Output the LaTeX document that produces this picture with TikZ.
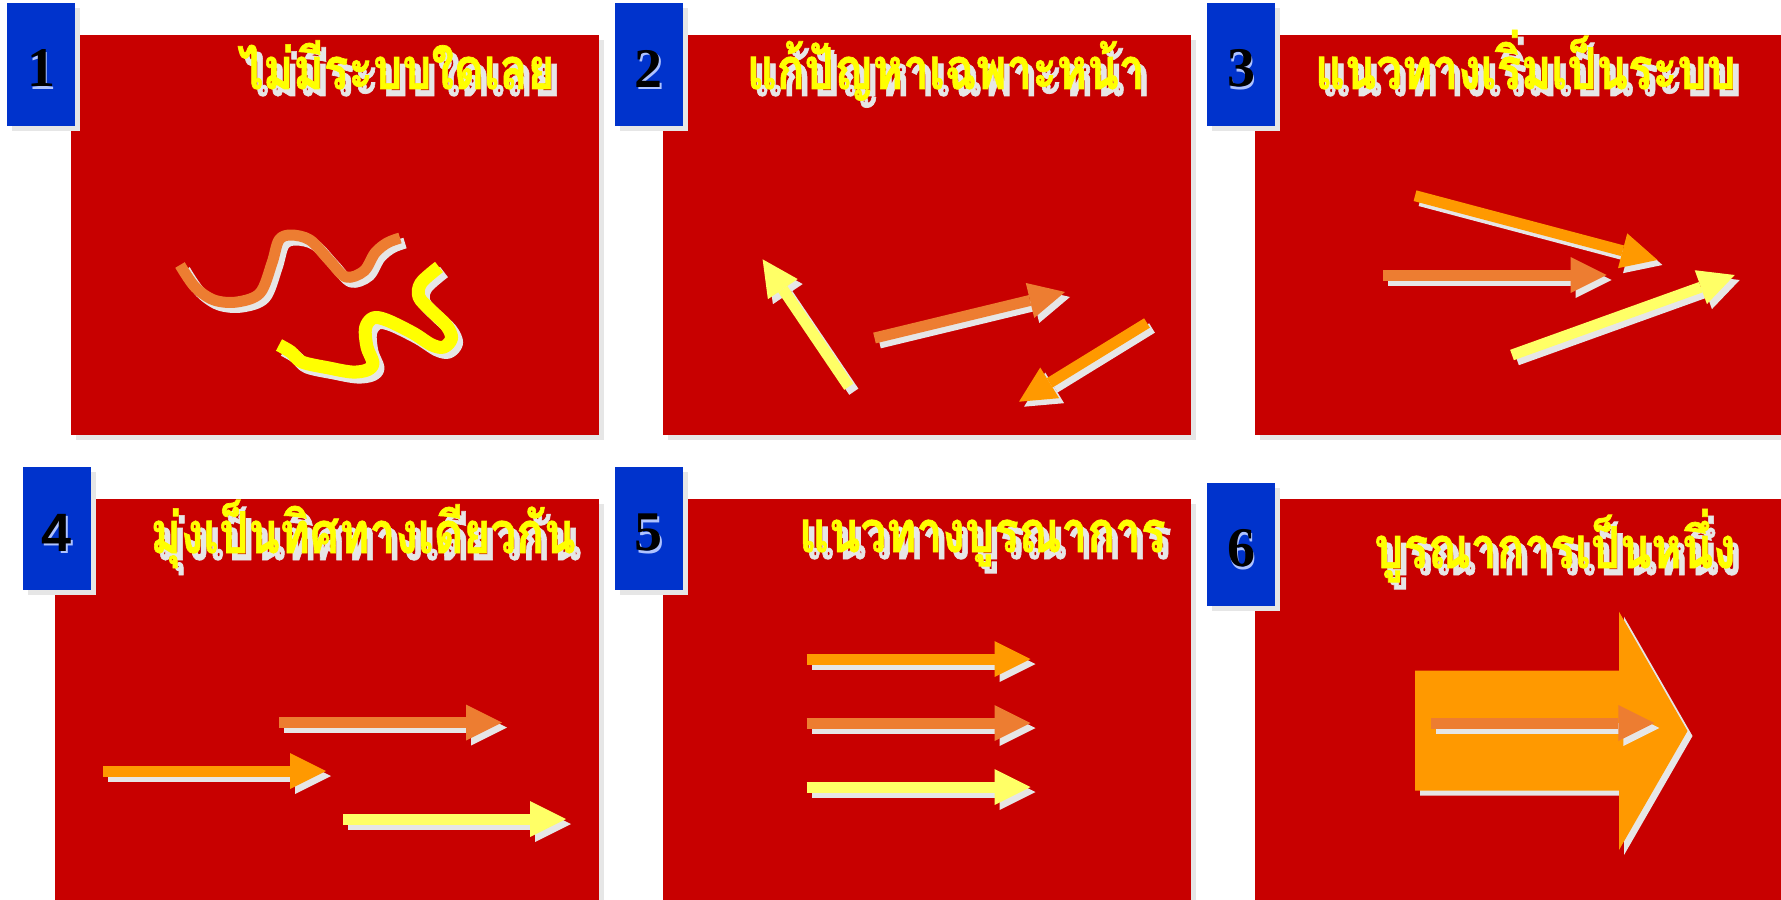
\documentclass[tikz,border=0pt]{standalone}
\usepackage{graphicx}
\usepackage{fontspec}
\newfontfamily\thaifont[Script=Thai, BoldFeatures={FakeBold=1.2}]{Loma}
\newfontfamily\numserif{Liberation Serif}
\newfontfamily\numsans{Liberation Sans}
\usetikzlibrary{arrows.meta}
\definecolor{panelred}{RGB}{200,0,0}
\definecolor{boxblue}{RGB}{0,51,204}
\definecolor{shadowgray}{RGB}{230,230,230}
\definecolor{arrorange}{RGB}{255,153,0}
\definecolor{arrcoral}{RGB}{237,125,49}
\definecolor{arryellow}{RGB}{255,255,102}
\definecolor{curveyellow}{RGB}{255,255,0}
\definecolor{titleyellow}{RGB}{255,255,0}
\definecolor{glowblue}{RGB}{175,195,255}
\newcommand{\tall}[1]{\scalebox{1}[1.25]{#1}}
\begin{document}
\begin{tikzpicture}[x=0.5pt,y=-0.5pt,
  panelbox/.style={fill=panelred},
  bluebox/.style={fill=boxblue},
  shadowbox/.style={fill=shadowgray},
  numtext/.style={inner sep=0pt, anchor=center, font=\numserif\bfseries\fontsize{28pt}{30pt}\selectfont},
  numsanstext/.style={inner sep=0pt, anchor=center, font=\numsans\bfseries\fontsize{27pt}{29pt}\selectfont},
  titletext/.style={inner sep=0pt, anchor=base east, text=titleyellow, font=\thaifont\bfseries\fontsize{23pt}{26pt}\selectfont},
  titleshadow/.style={titletext, text=shadowgray},
  arr/.style={line width=5.5pt, line cap=butt, -{Triangle[length=18pt,width=18pt,line width=0pt]}},
  curve/.style={line cap=butt, line join=round},
]
\useasboundingbox (0,0) rectangle (1781,899);
\fill[white] (0,0) rectangle (1781,899);

% ---------- panels (shadow + red) ----------
\begin{scope}
\clip (0,0) rectangle (1781,899);
\foreach \xa/\ya/\xb/\yb in {71/35/599/435, 663/35/1191/435, 1255/35/1795/435,
                             55/499/599/910, 663/499/1191/910, 1255/499/1795/910}{
  \fill[shadowbox] (\xa+5,\ya+5) rectangle (\xb+5,\yb+5);
  \fill[panelbox] (\xa,\ya) rectangle (\xb,\yb);
}
\end{scope}

% ---------- panel 1: curves ----------
\begin{scope}[shift={(5,5)}]
\draw[curve, shadowgray, line width=5.5pt] plot[smooth, tension=0.55] coordinates {
 (180,265) (195,287) (214,300) (237,302) (260,293) (272,263) (279,240) (291,235)
 (310,240) (329,260) (346,277) (364,271) (375,253) (387,243) (400,238)};
\draw[curve, shadowgray, line width=6.5pt] plot[smooth, tension=0.55] coordinates {
 (439,267) (421,283) (419,297) (430.5,310) (446,325) (451.6,338) (444,347) (432,345)
 (413,333) (386.5,320) (373,318) (365.5,328) (367,347) (373,363) (367,370) (352,372)
 (329,368) (302,362) (291,352) (279,345)};
\end{scope}
\draw[curve, arrcoral, line width=5.5pt] plot[smooth, tension=0.55] coordinates {
 (180,265) (195,287) (214,300) (237,302) (260,293) (272,263) (279,240) (291,235)
 (310,240) (329,260) (346,277) (364,271) (375,253) (387,243) (400,238)};
\draw[curve, curveyellow, line width=6.5pt] plot[smooth, tension=0.55] coordinates {
 (439,267) (421,283) (419,297) (430.5,310) (446,325) (451.6,338) (444,347) (432,345)
 (413,333) (386.5,320) (373,318) (365.5,328) (367,347) (373,363) (367,370) (352,372)
 (329,368) (302,362) (291,352) (279,345)};

% ---------- arrows (shadow then colour) ----------
\foreach \ax/\ay/\bx/\by/\col in {
  848.8/386.7/762.6/259.3/arryellow,
  874.5/338/1065/292/arrcoral,
  1147/323/1019/401.7/arrorange,
  1415/195.7/1657.4/260/arrorange,
  1383/275/1606.5/275/arrcoral,
  1512/355/1734.7/275/arryellow,
  279.4/722.5/502/722.5/arrcoral,
  103/771/326/771/arrorange,
  343/819/566/819/arryellow,
  806.7/659/1030.5/659/arrorange,
  806.7/723/1030.5/723/arrcoral,
  806.7/787/1030.5/787/arryellow}{
  \draw[arr, shadowgray] (\ax+5,\ay+5) -- (\bx+5,\by+5);
  \draw[arr, \col] (\ax,\ay) -- (\bx,\by);
}

% ---------- panel 6: big arrow ----------
\fill[shadowgray] (1420,675.7) -- (1624,675.7) -- (1624,616.7) -- (1692.5,736) -- (1624,855) -- (1624,795.7) -- (1420,795.7) -- cycle;
\fill[arrorange] (1415,670.7) -- (1619,670.7) -- (1619,611.7) -- (1687.5,731) -- (1619,850) -- (1619,790.7) -- (1415,790.7) -- cycle;
\draw[arr, shadowgray] (1436,728) -- (1659.4,728);
\draw[arr, arrcoral] (1431,723) -- (1654.4,723);

% ---------- blue number boxes ----------
\foreach \xa/\ya in {7/3, 614.5/3, 1207/3, 23/467, 614.5/467, 1207/483}{
  \fill[shadowbox] (\xa+5,\ya+5) rectangle (\xa+73,\ya+128);
  \fill[bluebox] (\xa,\ya) rectangle (\xa+68,\ya+123);
}
\node[numtext, text=glowblue] (n1g) at (42.5,71) {1};
\node[numtext] (n1) at (41,68.5) {1};
\node[numtext, text=glowblue] (n2g) at (650,71) {2};
\node[numtext] (n2) at (648.75,68.5) {2};
\node[numtext, text=glowblue] (n3g) at (1242.5,71) {3};
\node[numtext] (n3) at (1241,68.5) {3};
\node[numsanstext, text=glowblue] (n4g) at (58.5,535) {4};
\node[numsanstext] (n4) at (57,532.5) {4};
\node[numtext, text=glowblue] (n5g) at (650,535) {5};
\node[numtext] (n5) at (648.75,532.5) {5};
\node[numtext, text=glowblue] (n6g) at (1242.5,551) {6};
\node[numtext] (n6) at (1241,548.5) {6};

% ---------- titles ----------
\node[titleshadow] (t1s) at (561,96) {\tall{ไม่มีระบบใดเลย}};
\node[titletext]   (t1)  at (555,89) {\tall{ไม่มีระบบใดเลย}};
\node[titleshadow] (t2s) at (1151,96) {\tall{แก้ปัญหาเฉพาะหน้า}};
\node[titletext]   (t2)  at (1145,89) {\tall{แก้ปัญหาเฉพาะหน้า}};
\node[titleshadow] (t3s) at (1742,96) {\tall{แนวทางเริ่มเป็นระบบ}};
\node[titletext]   (t3)  at (1736,89) {\tall{แนวทางเริ่มเป็นระบบ}};
\node[titleshadow] (t4s) at (582,560) {\tall{มุ่งเป็นทิศทางเดียวกัน}};
\node[titletext]   (t4)  at (576,553) {\tall{มุ่งเป็นทิศทางเดียวกัน}};
\node[titleshadow] (t5s) at (1172,559) {\tall{แนวทางบูรณาการ}};
\node[titletext]   (t5)  at (1166,552) {\tall{แนวทางบูรณาการ}};
\node[titleshadow] (t6s) at (1742,575) {\tall{บูรณาการเป็นหนึ่ง}};
\node[titletext]   (t6)  at (1736,568) {\tall{บูรณาการเป็นหนึ่ง}};
\end{tikzpicture}
\end{document}
